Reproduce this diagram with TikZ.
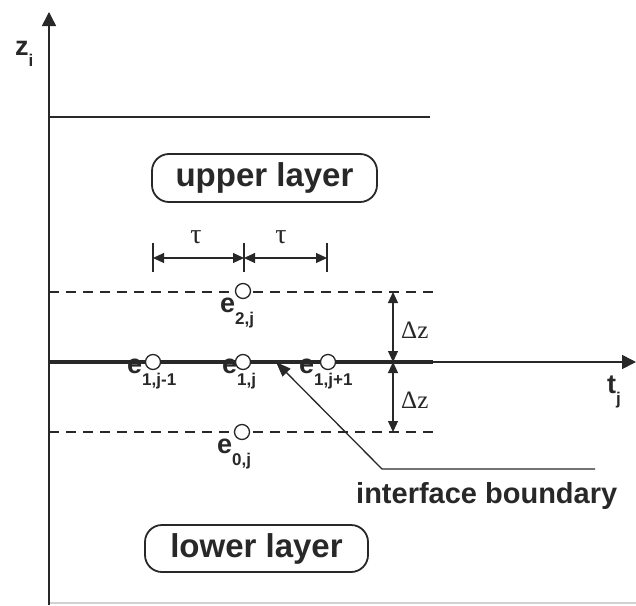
\documentclass[tikz,border=0pt]{standalone}
\usepackage{fontspec}
\setmainfont{Liberation Sans}
\newfontfamily\serifgr{Liberation Serif}
\usetikzlibrary{arrows.meta}
\definecolor{ink}{RGB}{40,40,40}
\newcommand\elab[1]{e\raisebox{-12pt}{\fontsize{17}{17}\selectfont #1}}
\begin{document}
\begin{tikzpicture}[x=1pt,y=-1pt,
  axisline/.style={draw=ink,line width=1.6pt},
  bigtip/.style={-{Triangle[length=14pt,width=14pt]}},
  dimarrow/.style={draw=ink,line width=1.1pt,{Triangle[length=11pt,width=10pt]}-{Triangle[length=11pt,width=10pt]}},
  tick/.style={draw=ink,line width=1.1pt},
  gridpt/.style={circle,draw=ink,fill=white,line width=1.3pt,minimum size=15pt,inner sep=0pt},
  layerbox/.style={draw=ink,line width=1.8pt,rounded corners=17pt,minimum width=225pt,minimum height=48pt,inner sep=0pt,text=ink,font=\fontsize{33}{35}\selectfont\bfseries},
  dashline/.style={draw=ink,dash pattern=on 10pt off 7pt,line width=1.3pt},
  elabel/.style={anchor=base west,inner sep=0pt,text=ink,font=\fontsize{27}{27}\selectfont\bfseries},
  grk/.style={inner sep=0pt,text=ink,font=\fontsize{28}{28}\serifgr}
]
\useasboundingbox (0,0) rectangle (636,605);
\fill[white] (0,0) rectangle (636,605);

% axes
\coordinate (O) at (49,605);
\coordinate (Ztop) at (49,12);
\coordinate (Tleft) at (49,362);
\coordinate (Tthick) at (433,362);
\coordinate (Tend) at (636,362);
\coordinate (Bend) at (636,603);
\coordinate (Bstart) at (49,603);
\draw[gray!35,line width=1.5pt] (Bstart) -- (Bend);
\draw[axisline,bigtip] (O) -- (Ztop);

% top line
\coordinate (TopL) at (49,117);
\coordinate (TopR) at (430,117);
\draw[axisline] (TopL) -- (TopR);

% dashed lines
\coordinate (D2L) at (49,292);
\coordinate (D2R) at (433,292);
\coordinate (D0L) at (49,432);
\coordinate (D0R) at (433,432);
\draw[dashline] (D2L) -- (D2R);
\draw[dashline] (D0L) -- (D0R);

% main interface line
\draw[draw=ink,line width=4pt] (Tleft) -- (Tthick);
\draw[axisline,bigtip] (Tthick) -- (Tend);

% tau dimension
\coordinate (ta) at (153,258);
\coordinate (tb) at (244,258);
\coordinate (tc) at (327,258);
\coordinate (taT) at (153,243); \coordinate (taB) at (153,272);
\coordinate (tbT) at (244,243); \coordinate (tbB) at (244,272);
\coordinate (tcT) at (327,243); \coordinate (tcB) at (327,272);
\draw[tick] (taT) -- (taB);
\draw[tick] (tbT) -- (tbB);
\draw[tick] (tcT) -- (tcB);
\draw[dimarrow] (ta) -- (tb);
\draw[dimarrow] (tb) -- (tc);
\node[grk,anchor=base] (tau1) at (196,243) {τ};
\node[grk,anchor=base] (tau2) at (281,243) {τ};

% delta z dimension
\coordinate (dz2) at (393,292);
\coordinate (dz1) at (393,362);
\coordinate (dz0) at (393,432);
\draw[dimarrow] (dz2) -- (dz1);
\draw[dimarrow] (dz1) -- (dz0);
\node[grk,anchor=base west,font=\fontsize{25}{25}\serifgr] (dzu) at (401,338) {Δz};
\node[grk,anchor=base west,font=\fontsize{25}{25}\serifgr] (dzl) at (401,408) {Δz};

% interface boundary pointer
\coordinate (ib1) at (595,469);
\coordinate (ib2) at (382,469);
\coordinate (ibtip) at (276,362);
\draw[draw=ink,line width=1.3pt,-{Triangle[length=15pt,width=11pt]}] (ib1) -- (ib2) -- (ibtip);
\node[anchor=base west,inner sep=0pt,text=ink,font=\fontsize{29}{29}\selectfont\bfseries] (iblab) at (356,503) {interface boundary};

% grid points
\node[gridpt] (e1a) at (153,362) {};
\node[gridpt] (e1b) at (243,362) {};
\node[gridpt] (e1c) at (328,362) {};
\node[gridpt] (e2) at (243,291) {};
\node[gridpt] (e0) at (242,432) {};

\node[elabel] (l1a) at (127,373) {\elab{1,j-1}};
\node[elabel] (l1b) at (222,373) {\elab{1,j}};
\node[elabel] (l1c) at (299,373) {\elab{1,j+1}};
\node[elabel] (l2) at (220,312) {\elab{2,j}};
\node[elabel] (l0) at (217,453) {\elab{0,j}};

% axis labels
\node[elabel] (zl) at (15,55) {z\raisebox{-11pt}{\fontsize{17}{17}\selectfont i}};
\node[elabel] (tl) at (607,393) {t\raisebox{-11pt}{\fontsize{17}{17}\selectfont j}};

% layers
\node[layerbox] (upper) at (264.5,178) {upper layer};
\node[layerbox,minimum width=223pt,minimum height=47pt] (lower) at (256.5,548.5) {lower layer};
\end{tikzpicture}
\end{document}
